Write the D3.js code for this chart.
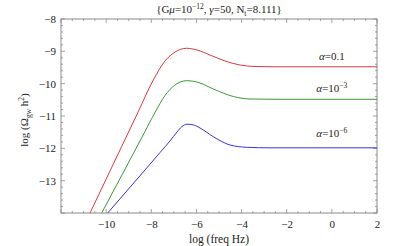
<!DOCTYPE html>
<html>
<head>
<meta charset="utf-8">
<script src="https://cdn.jsdelivr.net/npm/d3@7"></script>
<style>
  html, body { margin: 0; padding: 0; background: #fff; }
  svg { display: block; font-family: "Liberation Serif", "Times New Roman", "DejaVu Serif", serif; }
</style>
</head>
<body>
<svg id="chart" width="399" height="246"></svg>
<script>
// ---- data ----
const xTicks = [-10, -8, -6, -4, -2, 0, 2];
const yTicks = [-13, -12, -11, -10, -9, -8];

const redX   = [-11.0, -10.715, -9.386, -8.646, -7.911, -7.392, -6.949, -6.431, -5.975, -5.399, -4.734, -4.069, -3.405, -2.519, 2.0];
const redY   = [-14.42, -14.0, -12.052, -10.969, -9.887, -9.299, -9.021, -8.906, -8.959, -9.113, -9.299, -9.423, -9.469, -9.478, -9.478];

const greenX = [-10.5, -10.197, -9.386, -8.500, -7.835, -7.392, -6.949, -6.431, -5.842, -5.252, -4.366, -3.627, -2.519, 2.0];
const greenY = [-14.40, -14.0, -12.936, -11.773, -10.892, -10.366, -10.041, -9.908, -9.979, -10.165, -10.397, -10.474, -10.484, -10.484];

const blueX  = [-10.5, -9.931, -9.164, -8.278, -7.613, -7.171, -6.861, -6.640, -6.418, -6.152, -5.842, -5.252, -4.512, -3.773, -2.740, 2.0];
const blueY  = [-14.46, -14.0, -13.381, -12.670, -12.129, -11.773, -11.495, -11.325, -11.254, -11.272, -11.371, -11.640, -11.897, -11.968, -11.984, -11.984];

const seriesNames  = ["0.1", "10", "10"];
const seriesExp    = [null, "−3", "−6"];
const labelX       = [0.0, 0.0, 0.0];
const labelY       = [-9.27, -10.25, -11.65];

// ---- layout ----
const margin = { left: 61, right: 22, top: 19, bottom: 33 };
const W = 399, H = 246;
const x = d3.scaleLinear().domain([-12, 2]).range([margin.left, W - margin.right]);
const y = d3.scaleLinear().domain([-14, -8]).range([H - margin.bottom, margin.top]);

const svg = d3.select("#chart");
const frameColor = "#8a8a8a";
const FS = 11;

svg.append("defs").append("clipPath").attr("id", "clip")
  .append("rect")
  .attr("x", x(-12)).attr("y", y(-8))
  .attr("width", x(2) - x(-12)).attr("height", y(-14) - y(-8));

// frame
svg.append("rect")
  .attr("x", x(-12)).attr("y", y(-8))
  .attr("width", x(2) - x(-12)).attr("height", y(-14) - y(-8))
  .attr("fill", "none").attr("stroke", frameColor).attr("stroke-width", 1);

// minor/major ticks (inward on all four sides)
const xMinor = d3.range(-12, 2.001, 0.5);
const yMinor = d3.range(-14, -7.999, 0.2);
const tickG = svg.append("g").attr("stroke", frameColor).attr("stroke-width", 0.8);
xMinor.forEach(v => {
  const major = Math.abs(v / 2 - Math.round(v / 2)) < 1e-6;
  const len = major ? 4 : 2;
  tickG.append("line").attr("x1", x(v)).attr("x2", x(v)).attr("y1", y(-14)).attr("y2", y(-14) - len);
  tickG.append("line").attr("x1", x(v)).attr("x2", x(v)).attr("y1", y(-8)).attr("y2", y(-8) + len);
});
yMinor.forEach(v => {
  const major = Math.abs(v - Math.round(v)) < 1e-6;
  const len = major ? 4 : 2;
  tickG.append("line").attr("y1", y(v)).attr("y2", y(v)).attr("x1", x(-12)).attr("x2", x(-12) + len);
  tickG.append("line").attr("y1", y(v)).attr("y2", y(v)).attr("x1", x(2)).attr("x2", x(2) - len);
});

// tick labels via d3 axes
const xAxis = d3.axisBottom(x).tickValues(xTicks).tickSize(0).tickPadding(7)
  .tickFormat(d => d < 0 ? "−" + Math.abs(d) : String(d));
const gx = svg.append("g").attr("transform", `translate(0,${y(-14)})`).call(xAxis);
gx.attr("font-family", null).attr("font-size", null);
gx.select(".domain").remove();
gx.selectAll("text").attr("font-size", FS).attr("fill", "#222");

const yAxis = d3.axisLeft(y).tickValues(yTicks).tickSize(0).tickPadding(5)
  .tickFormat(d => "−" + Math.abs(d));
const gy = svg.append("g").attr("transform", `translate(${x(-12)},0)`).call(yAxis);
gy.attr("font-family", null).attr("font-size", null);
gy.select(".domain").remove();
gy.selectAll("text").attr("font-size", FS).attr("fill", "#222");

// curves
const line = d3.line().x(d => x(d[0])).y(d => y(d[1])).curve(d3.curveMonotoneX);
const series = [
  { xs: redX, ys: redY, color: "#e0393b" },
  { xs: greenX, ys: greenY, color: "#3a9a35" },
  { xs: blueX, ys: blueY, color: "#3535e0" }
];
const curveG = svg.append("g").attr("clip-path", "url(#clip)");
series.forEach(s => {
  curveG.append("path")
    .datum(s.xs.map((v, i) => [v, s.ys[i]]))
    .attr("d", line)
    .attr("fill", "none")
    .attr("stroke", s.color)
    .attr("stroke-width", 1);
});

// series labels
seriesNames.forEach((n, i) => {
  const t = svg.append("text")
    .attr("x", x(labelX[i])).attr("y", y(labelY[i]))
    .attr("text-anchor", "middle")
    .attr("font-size", FS).attr("fill", "#222");
  t.append("tspan").attr("font-style", "italic").text("α");
  t.append("tspan").text("=" + n);
  if (seriesExp[i]) {
    t.append("tspan").attr("dy", -4).attr("font-size", 7.5).text(seriesExp[i]);
  }
});

// title
const title = svg.append("text")
  .attr("x", (x(-12) + x(2)) / 2).attr("y", 13)
  .attr("text-anchor", "middle").attr("font-size", FS).attr("fill", "#222");
title.append("tspan").text("{G");
title.append("tspan").attr("font-style", "italic").text("μ");
title.append("tspan").text("=10");
title.append("tspan").attr("dy", -4).attr("font-size", 7.5).text("−12");
title.append("tspan").attr("dy", 4).text(", ");
title.append("tspan").attr("font-style", "italic").text("γ");
title.append("tspan").text("=50, N");
title.append("tspan").attr("dy", 2.5).attr("font-size", 7.5).text("t");
title.append("tspan").attr("dy", -2.5).text("=8.111}");

// x-axis title
svg.append("text")
  .attr("x", (x(-12) + x(2)) / 2).attr("y", 243)
  .attr("text-anchor", "middle").attr("font-size", 11.5).attr("fill", "#222")
  .text("log (freq Hz)");

// y-axis title
const yt = svg.append("text")
  .attr("transform", `translate(28,${(y(-8) + y(-14)) / 2 + 4}) rotate(-90)`)
  .attr("text-anchor", "middle").attr("font-size", FS).attr("fill", "#222");
yt.append("tspan").text("log (Ω");
yt.append("tspan").attr("dy", 2.5).attr("font-size", 7.5).text("gw");
yt.append("tspan").attr("dy", -2.5).text(" h");
yt.append("tspan").attr("dy", -4).attr("font-size", 7.5).text("2");
yt.append("tspan").attr("dy", 4).text(")");
</script>
</body>
</html>
